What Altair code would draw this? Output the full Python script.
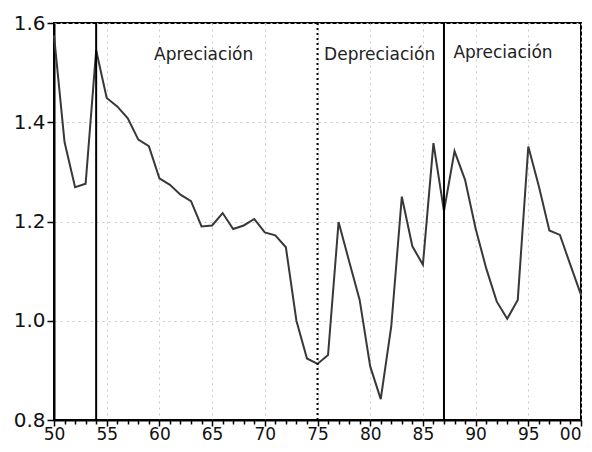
import altair as alt
import pandas as pd

years = list(range(1950, 2001))
values = [1.575, 1.36, 1.269, 1.276, 1.545, 1.449, 1.432, 1.408, 1.365, 1.352,
          1.287, 1.274, 1.254, 1.241, 1.19, 1.192, 1.217, 1.185, 1.192, 1.205,
          1.178, 1.172, 1.148, 1.0, 0.924, 0.913, 0.931, 1.199, 1.12, 1.042,
          0.908, 0.842, 0.989, 1.25, 1.15, 1.113, 1.358, 1.221, 1.342, 1.284,
          1.186, 1.106, 1.039, 1.004, 1.042, 1.351, 1.271, 1.182, 1.173, 1.112,
          1.052]

solid_breaks = [1954, 1987]
dotted_breaks = [1975]

period_labels = ["Apreciación", "Depreciación", "Apreciación"]
period_x = [1964.2, 1980.9, 1992.6]
period_y = [1.525, 1.525, 1.53]

y_ticks = [0.8, 1.0, 1.2, 1.4, 1.6]

df = pd.DataFrame({"year": years, "value": values})
df_solid = pd.DataFrame({"year": solid_breaks})
df_dot = pd.DataFrame({"year": dotted_breaks})
df_txt = pd.DataFrame({"label": period_labels, "year": period_x, "value": period_y})

xscale = alt.Scale(domain=[1950, 2000], nice=False, zero=False)
yscale = alt.Scale(domain=[0.8, 1.6], nice=False, zero=False)

xaxis = alt.Axis(
    values=years,
    labelExpr="datum.value % 5 == 0 ? substring(toString(datum.value), 2, 4) : ''",
    tickSize={"condition": {"test": "datum.value % 5 == 0", "value": 6}, "value": 4},
    gridOpacity={"condition": {"test": "datum.value % 5 == 0", "value": 1}, "value": 0},
    labelAlign={"condition": {"test": "datum.value == 2000", "value": "right"}, "value": "center"},
    title=None,
    labelFlush=False,
    labelOverlap=False,
    labelPadding=0,
    labelFontSize=17,
)
yaxis = alt.Axis(values=y_ticks, format=".1f", title=None, tickSize=7, labelPadding=2,
                 labelFontSize=20)

X = lambda: alt.X("year:Q", scale=xscale, axis=xaxis)
Y = lambda: alt.Y("value:Q", scale=yscale, axis=yaxis)

line = alt.Chart(df).mark_line(color="#383838", strokeWidth=2).encode(x=X(), y=Y())

solid = alt.Chart(df_solid).mark_rule(color="#000000", strokeWidth=2).encode(x=X())
dotted = alt.Chart(df_dot).mark_rule(color="#000000", strokeWidth=2, strokeDash=[2, 3]).encode(x=X())

text = alt.Chart(df_txt).mark_text(
    font="DejaVu Sans", fontSize=17, color="#222222", align="center", baseline="alphabetic"
).encode(x=X(), y=Y(), text="label:N")

chart = alt.layer(line, solid, dotted, text).properties(
    width=527,
    height=397,
    autosize=alt.AutoSizeParams(type="none"),
    padding={"left": 46, "top": 15, "right": 3, "bottom": 24},
).configure_view(
    stroke="#000000", strokeWidth=2
).configure_axis(
    domainColor="#000000",
    domainWidth=2,
    tickColor="#000000",
    tickWidth=1.5,
    labelFont="DejaVu Sans",
    labelColor="#111111",
    grid=True,
    gridColor="#c8c8c8",
    gridDash=[2, 4],
    gridWidth=1,
)

chart.save("out.html", embed_options={"renderer": "svg", "actions": False})
